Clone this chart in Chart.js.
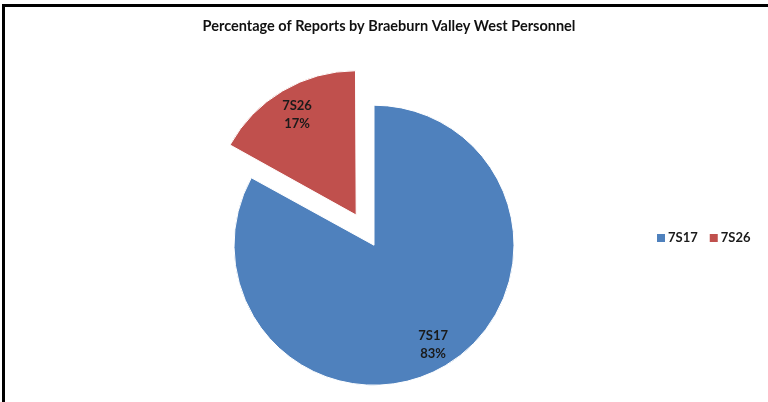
<!DOCTYPE html>
<html>
<head>
<meta charset="utf-8">
<script src="https://cdn.jsdelivr.net/npm/chart.js@4.4.1/dist/chart.umd.min.js"></script>
<style>
  html, body { margin: 0; padding: 0; background: #fff; overflow: hidden; }
  #frame { position: absolute; left: 2px; top: 4px; width: 820px; height: 460px;
           border-top: 3px solid #000; border-left: 3px solid #000; }
  #wrap { position: absolute; left: 0; top: 0; width: 768px; height: 402px; }
</style>
</head>
<body>
<div id="frame"></div>
<div id="wrap"><canvas id="myPieChart" width="768" height="402"></canvas></div>
<script>
var personnel = ["7S17", "7S26"];
var reportShare = [83, 17];
var sliceColors = ["#4F81BD", "#C0504D"];

// excel puts the pie a bit left of the title centre, move the plot area
var shiftPlot = {
    id: "shiftPlot",
    afterLayout: function (chart) {
        chart.chartArea.left -= 15;
        chart.chartArea.right -= 15;
    }
};

// labels inside the slices: name + percent
var sliceLabels = {
    id: "sliceLabels",
    afterDatasetsDraw: function (chart) {
        var ctx = chart.ctx;
        var ds = chart.data.datasets[0];
        var meta = chart.getDatasetMeta(0);
        var total = ds.data.reduce(function (a, b) { return a + b; }, 0);
        ctx.save();
        ctx.font = "bold 13px Lato";
        ctx.fillStyle = "#1a1a1a";
        ctx.textAlign = "center";
        ctx.textBaseline = "middle";
        meta.data.forEach(function (arc, i) {
            var p = arc.getProps(["x", "y", "startAngle", "endAngle", "outerRadius"]);
            var mid = (p.startAngle + p.endAngle) / 2;
            var off = (ds.offset[i] || 0) / 4;
            var d = off + p.outerRadius * 0.83;
            var cx = p.x + Math.cos(mid) * d;
            var cy = p.y + Math.sin(mid) * d;
            var pct = Math.round(ds.data[i] / total * 100) + "%";
            ctx.fillText(chart.data.labels[i], cx, cy - 9);
            ctx.fillText(pct, cx, cy + 9);
        });
        ctx.restore();
    }
};

// legend in one row at the right, like the excel one
var rowLegend = {
    id: "rowLegend",
    afterDraw: function (chart) {
        var ctx = chart.ctx;
        var ds = chart.data.datasets[0];
        var x = 657;
        var y = 238;
        ctx.save();
        ctx.font = "bold 13px Lato";
        ctx.textBaseline = "middle";
        ctx.textAlign = "left";
        chart.data.labels.forEach(function (lbl, i) {
            ctx.fillStyle = ds.backgroundColor[i];
            ctx.fillRect(x, y - 4, 8, 8);
            ctx.fillStyle = "#1a1a1a";
            ctx.fillText(lbl, x + 11, y);
            x += 11 + ctx.measureText(lbl).width + 12;
        });
        ctx.restore();
    }
};

new Chart("myPieChart", {
    type: "pie",
    data: {
        labels: personnel,
        datasets: [{
            data: reportShare,
            backgroundColor: sliceColors,
            borderColor: "#ffffff",
            borderWidth: 1,
            offset: [0, 140]
        }]
    },
    options: {
        responsive: false,
        animation: false,
        events: [],
        radius: 140,
        layout: {
            padding: { left: 10, right: 0, top: 0, bottom: 0 }
        },
        plugins: {
            legend: { display: false },
            tooltip: { enabled: false },
            title: {
                display: true,
                text: "Percentage of Reports by Braeburn Valley West Personnel",
                color: "#111",
                font: { family: "Lato", size: 14.5, weight: "bold" },
                padding: { top: 18, bottom: 53 }
            }
        }
    },
    plugins: [shiftPlot, sliceLabels, rowLegend]
});
</script>
</body>
</html>
